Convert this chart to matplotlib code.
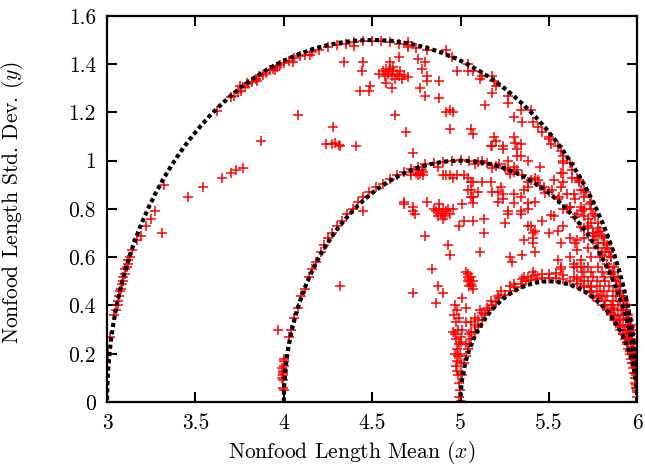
import numpy as np
import matplotlib
matplotlib.use("Agg")
import matplotlib.pyplot as plt
from matplotlib.patches import Arc
from matplotlib.ticker import FormatStrFormatter

plt.rcParams['font.family'] = 'cmr10'
plt.rcParams['mathtext.fontset'] = 'cm'
plt.rcParams['axes.unicode_minus'] = False

# bounding semicircles (centre on x axis, radius)
arc_centers = [4.5, 5.0, 5.5]
arc_radii = [1.5, 1.0, 0.5]

# points, grouped by area (mean x, std y)
outer_pts = np.array([
    (3.005, 0.20), (3.015, 0.27), (3.04, 0.36), (3.05, 0.38), (3.06, 0.40), (3.06, 0.42),
    (3.07, 0.44), (3.075, 0.46), (3.08, 0.47), (3.085, 0.49), (3.09, 0.50), (3.09, 0.52),
    (3.10, 0.53), (3.10, 0.55), (3.11, 0.56), (3.12, 0.57), (3.12, 0.59), (3.13, 0.60),
    (3.14, 0.63), (3.17, 0.67), (3.19, 0.69), (3.22, 0.73), (3.25, 0.76), (3.27, 0.79),
    (3.31, 0.70), (3.32, 0.90),
    (3.62, 1.205), (3.70, 1.262), (3.72, 1.27), (3.74, 1.285), (3.76, 1.29), (3.78, 1.305),
    (3.80, 1.318), (3.82, 1.328), (3.84, 1.34), (3.86, 1.35), (3.88, 1.356), (3.90, 1.365),
    (3.92, 1.375), (3.94, 1.38), (3.96, 1.39), (3.98, 1.398), (4.00, 1.405), (4.03, 1.415),
    (4.06, 1.425), (4.09, 1.435), (4.12, 1.44), (4.16, 1.45), (4.20, 1.46), (4.25, 1.47),
    (4.30, 1.478), (4.35, 1.485), (4.40, 1.49), (4.45, 1.495), (4.50, 1.497), (4.55, 1.495),
    (4.60, 1.49), (4.65, 1.485), (4.70, 1.478), (4.75, 1.465),
    (3.75, 1.31), (3.79, 1.32), (3.85, 1.33), (3.95, 1.375), (4.05, 1.41), (4.15, 1.44),
    (4.40, 1.475), (4.70, 1.49), (4.81, 1.46), (4.95, 1.43),
    (5.04, 1.40), (5.07, 1.37), (5.12, 1.35), (5.19, 1.33), (5.27, 1.27), (5.34, 1.21),
    (5.41, 1.16), (5.46, 1.12), (5.50, 1.09), (5.55, 1.06), (5.58, 1.02), (5.63, 0.96),
    (5.67, 0.91), (5.71, 0.87), (5.74, 0.83),
    (5.62, 0.99), (5.66, 0.93), (5.70, 0.88), (5.73, 0.82), (5.75, 0.78), (5.78, 0.74),
    (5.79, 0.71), (5.81, 0.68), (5.83, 0.64), (5.85, 0.60), (5.87, 0.56), (5.89, 0.52),
    (5.905, 0.48), (5.92, 0.44), (5.935, 0.40), (5.95, 0.35), (5.96, 0.31), (5.97, 0.26),
    (5.98, 0.21), (5.988, 0.16), (5.993, 0.11), (5.997, 0.06),
])

upper_pts = np.array([
    (3.46, 0.85), (3.54, 0.89), (3.65, 0.93), (3.70, 0.95), (3.73, 0.96), (3.77, 0.97),
    (3.87, 1.08),
    (4.34, 1.41), (4.45, 1.41), (4.44, 1.37), (4.60, 1.41), (4.65, 1.43), (4.58, 1.32),
    (4.61, 1.30), (4.49, 1.31), (4.43, 1.29), (4.48, 1.29), (4.08, 1.19), (4.63, 1.19),
    (4.28, 1.14), (4.24, 1.07), (4.27, 1.07), (4.29, 1.075), (4.31, 1.065), (4.32, 1.06),
    (4.41, 1.06), (4.69, 1.12), (4.73, 1.03),
    (4.54, 1.36), (4.56, 1.37), (4.57, 1.35), (4.59, 1.36), (4.60, 1.38), (4.61, 1.35),
    (4.62, 1.37), (4.63, 1.34), (4.64, 1.36), (4.65, 1.35), (4.66, 1.37), (4.67, 1.34),
    (4.68, 1.355), (4.70, 1.345), (4.58, 1.38), (4.62, 1.39),
    (4.76, 1.42), (4.80, 1.41), (4.78, 1.38), (4.81, 1.35), (4.81, 1.33), (4.77, 1.30),
    (4.80, 1.27), (4.88, 1.33), (4.88, 1.26), (4.92, 1.20), (4.94, 1.21), (4.96, 1.20),
    (4.94, 1.13), (4.70, 1.47), (4.92, 1.46), (4.98, 1.37), (5.04, 1.37),
    (5.11, 1.34), (5.18, 1.35), (5.20, 1.31), (5.18, 1.28), (5.14, 1.23), (5.27, 1.24),
    (5.30, 1.18), (5.35, 1.16), (5.40, 1.21), (5.44, 1.14), (5.06, 1.13), (5.07, 1.11),
    (5.19, 1.10), (5.17, 1.06), (5.24, 1.05), (5.30, 1.10), (5.31, 1.075), (5.34, 1.07),
    (5.32, 1.02), (5.38, 1.00), (5.45, 0.975), (5.30, 0.975), (5.44, 0.92), (5.47, 0.89),
    (5.56, 0.85), (5.64, 0.86), (5.50, 1.10), (5.51, 1.07), (5.57, 1.04), (5.58, 1.00),
    (5.57, 0.95), (5.63, 0.93), (5.67, 0.92), (5.68, 0.88), (5.70, 0.85),
    (5.58, 0.99), (5.58, 0.95), (5.58, 0.91), (5.70, 0.77), (5.74, 0.74), (5.75, 0.70),
    (5.53, 0.92), (5.57, 0.89), (5.62, 0.81), (5.68, 0.81),
    (5.27, 1.00), (5.27, 0.96), (5.32, 1.05), (5.34, 1.02), (5.24, 1.06), (5.18, 1.06),
    (5.20, 1.08),
    (5.60, 0.86), (5.65, 0.84), (5.70, 0.80), (5.66, 0.78), (5.72, 0.73), (5.77, 0.70),
    (5.81, 0.66), (5.84, 0.62), (5.79, 0.60),
])

middle_pts = np.array([
    (3.995, 0.06), (3.995, 0.09), (3.997, 0.11), (3.998, 0.13), (4.0, 0.15), (4.0, 0.17),
    (4.003, 0.18), (3.993, 0.12), (3.99, 0.10), (3.99, 0.14), (4.002, 0.05),
    (4.03, 0.27), (4.04, 0.30), (4.06, 0.35), (4.08, 0.39), (4.10, 0.44), (4.12, 0.47),
    (4.14, 0.52), (4.16, 0.55), (4.18, 0.58), (4.21, 0.62), (4.23, 0.65), (4.25, 0.68),
    (4.27, 0.70), (4.30, 0.73), (4.33, 0.75), (4.36, 0.78), (4.39, 0.80), (4.42, 0.83),
    (4.45, 0.85), (4.48, 0.87), (4.52, 0.89), (4.56, 0.905), (4.60, 0.925), (4.64, 0.94),
    (4.68, 0.955), (4.72, 0.965), (4.76, 0.975), (4.80, 0.985), (4.85, 0.99), (4.90, 0.995),
    (4.95, 1.0), (5.0, 1.003), (5.05, 1.0), (5.10, 0.995),
    (4.75, 0.95), (4.76, 0.96), (4.77, 0.945), (4.78, 0.96), (4.76, 0.94), (4.79, 0.955),
    (5.15, 0.99), (5.2, 0.98), (5.25, 0.97), (5.3, 0.955), (5.35, 0.94), (5.40, 0.92),
    (5.45, 0.895), (5.50, 0.87), (5.55, 0.84), (5.60, 0.80), (5.65, 0.765), (5.70, 0.72),
    (5.75, 0.67), (5.78, 0.64), (5.80, 0.61), (5.83, 0.57), (5.85, 0.53), (5.88, 0.48),
    (5.90, 0.44), (5.92, 0.40), (5.94, 0.35), (5.96, 0.29), (5.97, 0.25), (5.98, 0.20),
    (5.99, 0.15), (5.995, 0.10), (5.998, 0.05),
    (5.08, 0.985), (5.18, 0.97), (5.28, 0.945), (5.38, 0.91), (5.48, 0.865), (5.58, 0.80),
    (5.68, 0.725),
    (5.12, 1.0), (5.22, 0.985), (5.32, 0.96), (5.42, 0.93), (5.52, 0.88), (5.62, 0.81),
    (5.72, 0.72), (5.76, 0.69), (5.82, 0.62),
])

inside_pts = np.array([
    (3.97, 0.30), (4.32, 0.48), (4.45, 0.79), (4.68, 0.82), (4.73, 0.79), (4.74, 0.78),
    (4.81, 0.83), (4.96, 0.80), (5.01, 0.82), (4.99, 0.73), (4.80, 0.69), (4.93, 0.65),
    (4.94, 0.61), (4.84, 0.55), (4.87, 0.48), (4.90, 0.45), (4.73, 0.45), (4.86, 0.41),
    (5.01, 0.43), (5.03, 0.39),
    (4.86, 0.79), (4.88, 0.80), (4.90, 0.80), (4.92, 0.79), (4.87, 0.77), (4.89, 0.78),
    (4.91, 0.77), (4.93, 0.80), (4.88, 0.82), (4.90, 0.76), (4.85, 0.80), (4.94, 0.78),
    (5.02, 0.75), (5.07, 0.75), (5.11, 0.62), (5.07, 0.85), (5.07, 0.825), (5.13, 0.76),
    (5.13, 0.70), (5.25, 0.74), (5.27, 0.79), (5.34, 0.79), (5.38, 0.80), (5.40, 0.73),
    (5.36, 0.67), (5.41, 0.68), (5.28, 0.60), (5.35, 0.61), (5.42, 0.62), (5.29, 0.58),
    (5.36, 0.52), (5.41, 0.54),
    (4.92, 0.94), (4.96, 0.93), (5.06, 0.91), (5.06, 0.88), (5.10, 0.87), (5.12, 0.91),
    (5.17, 0.91), (5.18, 0.87), (5.23, 0.89), (5.24, 0.86), (5.21, 0.83), (5.30, 0.825),
    (5.34, 0.85), (5.38, 0.89), (5.42, 0.83), (5.04, 0.93), (5.07, 0.91), (5.06, 0.85),
    (5.21, 0.87), (5.24, 0.84), (5.30, 0.86), (5.36, 0.88), (5.38, 0.825),
    (5.27, 0.78), (5.34, 0.78), (5.38, 0.73), (5.41, 0.70), (5.41, 0.66), (5.55, 0.59),
    (5.57, 0.55), (5.64, 0.57), (5.46, 0.75), (5.51, 0.775), (5.50, 0.70), (5.55, 0.71),
    (5.57, 0.66), (5.65, 0.66), (5.68, 0.56), (5.42, 0.71), (5.53, 0.77), (5.58, 0.73),
    (5.62, 0.68), (5.66, 0.67), (5.57, 0.56), (5.64, 0.56), (5.70, 0.56),
    (5.06, 0.33), (5.03, 0.33), (5.08, 0.35), (5.11, 0.38),
    (4.72, 0.94), (4.79, 0.94), (4.68, 0.83), (4.73, 0.81), (4.87, 0.975), (4.90, 0.94),
    (4.94, 0.94), (4.98, 0.94), (5.02, 0.94), (5.04, 0.88),
    (5.03, 0.54), (5.04, 0.53), (5.045, 0.52), (5.05, 0.51), (5.055, 0.50), (5.06, 0.49),
    (5.065, 0.48), (5.07, 0.47), (5.04, 0.50), (5.06, 0.52), (5.07, 0.50), (5.05, 0.48),
])

inner_pts = np.array([
    (4.99, 0.02), (4.995, 0.05), (4.99, 0.08), (4.985, 0.11), (4.98, 0.13), (4.975, 0.15),
    (4.98, 0.17), (4.985, 0.19), (4.97, 0.20), (4.98, 0.22), (4.99, 0.24), (4.975, 0.26),
    (4.97, 0.28), (4.985, 0.30), (4.975, 0.33), (4.99, 0.35), (4.965, 0.36), (4.98, 0.38),
    (4.97, 0.40), (5.0, 0.16), (5.005, 0.12), (4.995, 0.20), (5.0, 0.25), (5.01, 0.30),
    (5.0, 0.27), (4.96, 0.29), (5.0, 0.005),
    (5.01, 0.11), (5.02, 0.16), (5.03, 0.19), (5.04, 0.22), (5.05, 0.24), (5.06, 0.26),
    (5.08, 0.29), (5.10, 0.31), (5.12, 0.34), (5.14, 0.36), (5.16, 0.38), (5.18, 0.40),
    (5.20, 0.415), (5.22, 0.43), (5.25, 0.445), (5.28, 0.46), (5.31, 0.475), (5.34, 0.49),
    (5.37, 0.50), (5.40, 0.505), (5.43, 0.51), (5.46, 0.512), (5.50, 0.513), (5.54, 0.512),
    (5.58, 0.51), (5.62, 0.50), (5.66, 0.49), (5.70, 0.475), (5.74, 0.455), (5.78, 0.43),
    (5.82, 0.40), (5.85, 0.37), (5.88, 0.34), (5.90, 0.31), (5.92, 0.28), (5.94, 0.25),
    (5.96, 0.21), (5.975, 0.16), (5.985, 0.12), (5.995, 0.07), (5.998, 0.0),
    (5.06, 0.29), (5.10, 0.34), (5.15, 0.39), (5.21, 0.44), (5.28, 0.48), (5.35, 0.51),
    (5.42, 0.525), (5.50, 0.53), (5.58, 0.525), (5.66, 0.51), (5.74, 0.475), (5.80, 0.44),
    (5.86, 0.39), (5.90, 0.34), (5.94, 0.27),
    (5.03, 0.24), (5.05, 0.28), (5.08, 0.32), (5.12, 0.37), (5.17, 0.42), (5.23, 0.46),
    (5.30, 0.49), (5.38, 0.52), (5.46, 0.53), (5.54, 0.535),
])

fan_pts = np.array([
    (5.66, 0.56), (5.72, 0.56), (5.78, 0.56), (5.84, 0.56),
    (5.69, 0.54), (5.74, 0.54), (5.80, 0.54), (5.86, 0.54),
    (5.64, 0.52), (5.70, 0.52), (5.75, 0.52), (5.81, 0.52), (5.87, 0.52),
    (5.68, 0.50), (5.72, 0.50), (5.77, 0.50), (5.82, 0.50), (5.88, 0.50),
    (5.70, 0.48), (5.74, 0.48), (5.79, 0.48), (5.84, 0.48), (5.89, 0.48),
    (5.73, 0.46), (5.77, 0.46), (5.81, 0.46), (5.86, 0.46), (5.90, 0.46),
    (5.75, 0.44), (5.79, 0.44), (5.83, 0.44), (5.88, 0.44), (5.91, 0.44),
    (5.78, 0.42), (5.82, 0.42), (5.86, 0.42), (5.90, 0.42), (5.925, 0.42),
    (5.81, 0.40), (5.85, 0.40), (5.89, 0.40), (5.92, 0.40), (5.94, 0.40),
    (5.83, 0.38), (5.87, 0.38), (5.91, 0.38), (5.935, 0.38),
    (5.85, 0.36), (5.89, 0.36), (5.92, 0.36), (5.95, 0.36),
    (5.87, 0.34), (5.905, 0.34), (5.935, 0.34), (5.955, 0.34),
    (5.89, 0.32), (5.92, 0.32), (5.945, 0.32), (5.962, 0.32),
    (5.905, 0.30), (5.93, 0.30), (5.955, 0.30), (5.97, 0.30),
    (5.92, 0.28), (5.945, 0.28), (5.965, 0.28),
    (5.93, 0.26), (5.955, 0.26), (5.972, 0.26),
    (5.94, 0.24), (5.962, 0.24), (5.978, 0.24),
    (5.95, 0.22), (5.97, 0.22), (5.982, 0.22),
    (5.96, 0.20), (5.977, 0.20), (5.987, 0.20),
    (5.967, 0.18), (5.983, 0.18), (5.973, 0.16), (5.988, 0.16),
    (5.978, 0.14), (5.991, 0.14), (5.983, 0.12), (5.994, 0.12),
    (5.987, 0.10), (5.996, 0.10), (5.99, 0.08), (5.994, 0.06), (5.997, 0.04), (5.999, 0.02),
    (5.62, 0.60), (5.68, 0.59), (5.74, 0.60), (5.80, 0.62), (5.85, 0.60),
    (5.72, 0.64), (5.78, 0.66), (5.83, 0.65), (5.66, 0.63),
    (5.75, 0.70), (5.80, 0.69), (5.78, 0.72), (5.70, 0.68),
    (5.72, 0.76), (5.76, 0.77), (5.74, 0.80), (5.69, 0.79),
])

groups = [outer_pts, upper_pts, middle_pts, inside_pts, inner_pts, fan_pts]

fig = plt.figure(figsize=(6.45, 4.68), dpi=100)
ax = fig.add_axes([0.166, 0.141, 0.822, 0.825])

for pts in groups:
    ax.plot(pts[:, 0], pts[:, 1], linestyle='none', marker='+', color='red',
            markersize=6.5, markeredgewidth=1.1, zorder=2)

for c, r in zip(arc_centers, arc_radii):
    ax.add_patch(Arc((c, 0), 2 * r, 2 * r, theta1=0, theta2=180, color='black',
                     linewidth=3.0, linestyle=(0, (1.0, 0.75)), zorder=3))

ax.set_xlim(3, 6)
ax.set_ylim(0, 1.6)
ax.set_xticks(np.arange(3, 6.01, 0.5))
ax.set_yticks(np.arange(0, 1.61, 0.2))
ax.xaxis.set_major_formatter(FormatStrFormatter('%g'))
ax.yaxis.set_major_formatter(FormatStrFormatter('%g'))
ax.tick_params(direction='in', length=7, width=1.5, top=True, right=True,
               labelsize=15.5, pad=8)
for s in ax.spines.values():
    s.set_linewidth(1.6)

ax.set_xlabel('Nonfood Length Mean ($x$)', fontsize=15.5)
ax.set_ylabel('Nonfood Length Std. Dev. ($y$)', fontsize=15.5)
ax.xaxis.set_label_coords(0.462, -0.095)
ax.yaxis.set_label_coords(-0.152, 0.516)

fig.savefig('out.png', dpi=100)
